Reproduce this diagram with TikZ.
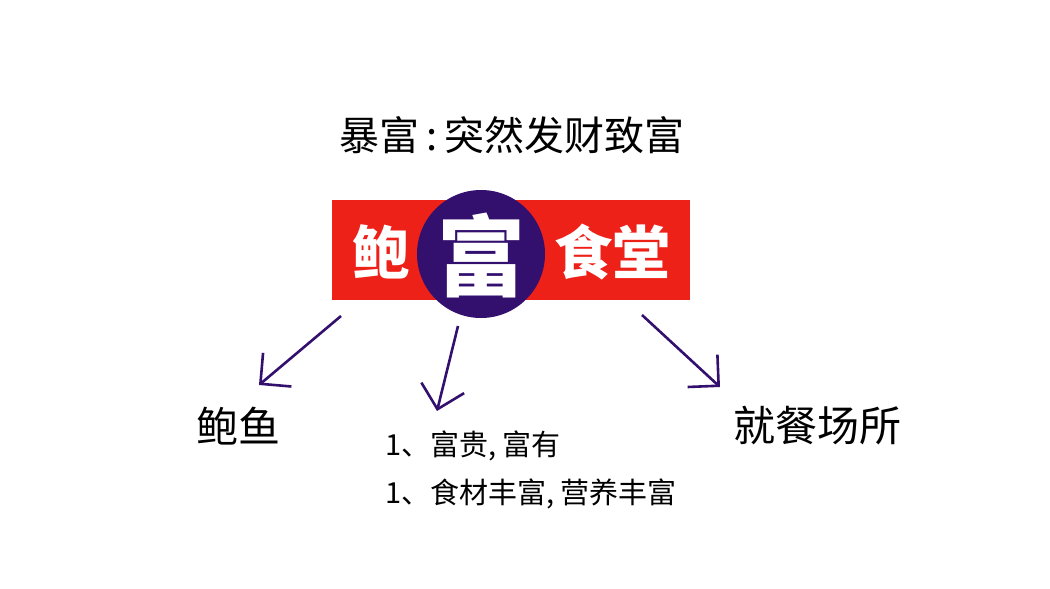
\documentclass[tikz,border=0pt]{standalone}
\usepackage{fontspec}
\newfontfamily\cjk{Noto Sans CJK SC}
\usetikzlibrary{arrows.meta}
\definecolor{banred}{HTML}{EE2118}
\definecolor{banpurple}{HTML}{33106E}
\tikzset{
  label/.style={font=\cjk\fontsize{42}{44}\selectfont, inner sep=0pt},
  small/.style={font=\cjk\fontsize{29}{31}\selectfont, inner sep=0pt, anchor=west},
  ban/.style={font=\cjk\bfseries\fontsize{58}{60}\selectfont, text=white, inner sep=0pt},
  link/.style={banpurple, line width=2.6pt, -{Straight Barb[length=22pt, width=44pt, line width=2.6pt]}}
}
\begin{document}
\begin{tikzpicture}[x=1pt, y=-1pt]
  \useasboundingbox[fill=white] (0,0) rectangle (1050,589);
  % title
  \node[label, font=\cjk\fontsize{40}{42}\selectfont] (title) at (512,135) {暴富\,:\,突然发财致富};
  % banner
  \fill[banred] (332,200) rectangle (690,300);
  \fill[banpurple] (481,254) circle (64);
  \node[ban] (bao) at (381,252) {鲍};
  \node[ban, font=\cjk\bfseries\fontsize{88}{90}\selectfont] (fu) at (481,255) {富};
  \node[ban] (shitang) at (612,252) {食堂};
  \coordinate (aL) at (341,316);
  \coordinate (aM) at (458,326);
  \coordinate (aR) at (642,315);
  % targets
  \node[label] (baoyu) at (238,426) {鲍鱼};
  \node[label] (jiucan) at (817,426) {就餐场所};
  \node[small] (line1) at (385,446) {1、富贵, 富有};
  \node[small] (line2) at (385,494) {1、食材丰富, 营养丰富};
  \coordinate (bL) at (259,385);
  \coordinate (bM) at (437,411);
  \coordinate (bR) at (720,387);
  % arrows
  \draw[link] (aL) -- (bL);
  \draw[link] (aM) -- (bM);
  \draw[link] (aR) -- (bR);
\end{tikzpicture}
\end{document}
